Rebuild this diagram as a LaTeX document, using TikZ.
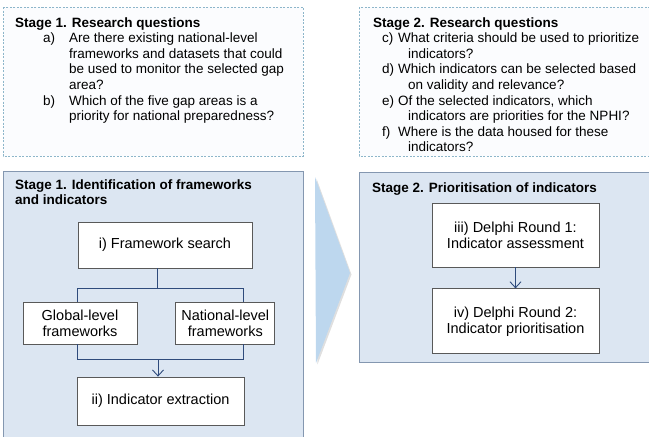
\documentclass[tikz,border=0pt]{standalone}
\usepackage{fontspec}
\setmainfont{Liberation Sans}
\usetikzlibrary{positioning,arrows.meta,shadows}
\definecolor{qline}{HTML}{8DB6CA}
\definecolor{qfill}{HTML}{FBFCFE}
\definecolor{stagefill}{HTML}{DCE6F2}
\definecolor{stageline}{HTML}{8497B0}
\definecolor{boxline}{HTML}{595959}
\definecolor{linkcol}{HTML}{2F4B7C}
\definecolor{chevfill}{HTML}{BDD7EE}

\begin{document}
\begin{tikzpicture}[x=1pt,y=-1pt,
	qframe/.style={draw=qline,fill=qfill,dash pattern=on 2pt off 1.5pt,line width=0.8pt},
	stage/.style={draw=stageline,fill=stagefill,line width=0.9pt},
	box/.style={draw=boxline,fill=white,line width=0.8pt,align=center,inner sep=0pt,font=\fontsize{14.5}{16}\selectfont},
	head/.style={anchor=base west,inner sep=0pt,font=\fontsize{13.5}{15.6}\selectfont\bfseries},
	qtext/.style={anchor=base west,inner sep=0pt,font=\fontsize{13.5}{15.6}\selectfont},
	link/.style={draw=linkcol,line width=0.9pt},
	arr/.style={link,-{Straight Barb[length=6pt,width=11pt]}}]
\useasboundingbox (0,0) rectangle (649,437);

% frames
\draw[qframe] (3,7) rectangle (303,156);
\draw[qframe] (359,7) rectangle (660,156);
\draw[stage] (3,171) rectangle (303,445);
\draw[stage] (359,172) rectangle (660,362);
\fill[chevfill,drop shadow={opacity=0.25,shadow xshift=1.5pt,shadow yshift=-1.5pt}]
	(315,177) -- (350,273) -- (316,363) -- cycle;

% research questions
\node[qtext] (rq1) at (15,27) {\begin{tabular}[t]{@{}p{28pt}@{}p{26pt}@{}l@{}}
	\multicolumn{3}{@{}l@{}}{\bfseries Stage 1. Research questions}\\
	& a) & Are there existing national-level\\
	& & frameworks and datasets that could\\
	& & be used to monitor the selected gap\\
	& & area?\\
	& b) & Which of the five gap areas is a\\
	& & priority for national preparedness?
\end{tabular}};
\node[qtext] (rq2) at (373,27) {\begin{tabular}[t]{@{}p{9pt}@{}p{16pt}@{}l@{}}
	\multicolumn{3}{@{}l@{}}{\bfseries Stage 2. Research questions}\\
	& c) & What criteria should be used to prioritize\\
	& & \hspace*{10pt}indicators?\\
	& d) & Which indicators can be selected based\\
	& & \hspace*{10pt}on validity and relevance?\\
	& e) & Of the selected indicators, which\\
	& & \hspace*{10pt}indicators are priorities for the NPHI?\\
	& f) & Where is the data housed for these\\
	& & \hspace*{10pt}indicators?
\end{tabular}};

% stage titles
\node[head] (t1) at (15,189) {\begin{tabular}[t]{@{}l@{}}Stage 1. Identification of frameworks\\and indicators\end{tabular}};
\node[head] (t2) at (372,192) {Stage 2. Prioritisation of indicators};

% stage 1 steps
\node[box,minimum width=174pt,minimum height=46pt] (fs) at (165,245) {i) Framework search};
\node[box,minimum width=114pt,minimum height=42pt] (gl) at (80,323) {Global-level\\frameworks};
\node[box,minimum width=99pt,minimum height=42pt,right=38pt of gl] (nl) {National-level\\frameworks};
\node[box,minimum width=167pt,minimum height=48pt] (ie) at (160.5,401) {ii) Indicator extraction};

% stage 2 steps
\node[box,minimum width=167pt,minimum height=64pt] (d1) at (515.5,235) {iii) Delphi Round 1:\\Indicator assessment};
\node[box,minimum width=167pt,minimum height=65pt,below=21pt of d1] (d2) {iv) Delphi Round 2:\\Indicator prioritisation};

% connectors
\coordinate (split) at (157,288);
\coordinate (splitL) at (77,288);
\coordinate (splitR) at (243,288);
\coordinate (merge) at (158,359);
\coordinate (mergeL) at (77,359);
\coordinate (mergeR) at (243,359);
\draw[link] (split |- fs.south) -- (split);
\draw[link] (splitL |- gl.north) -- (splitL) -- (splitR) -- (splitR |- nl.north);
\draw[link] (mergeL |- gl.south) -- (mergeL) -- (mergeR) -- (mergeR |- nl.south);
\draw[arr] (merge) -- (merge |- ie.north);
\draw[arr] (d1) -- (d2);
\end{tikzpicture}
\end{document}
